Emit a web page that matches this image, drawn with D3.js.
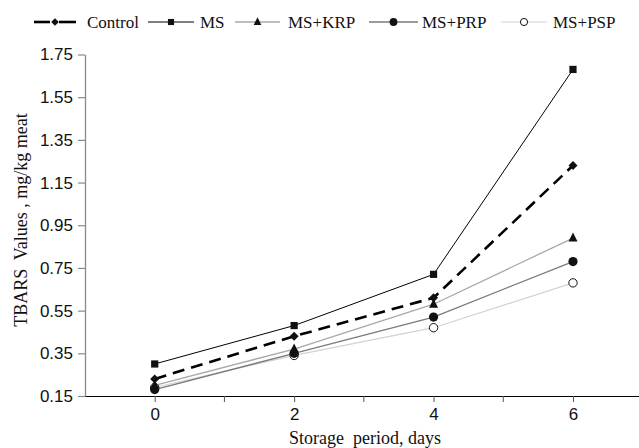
<!DOCTYPE html>
<html>
<head>
<meta charset="utf-8">
<script src="https://cdn.jsdelivr.net/npm/d3@7"></script>
<style>
  body { margin: 0; background: #fff; }
  svg { display: block; }
</style>
</head>
<body>
<svg width="639" height="448"></svg>
<script>
// days of storage
var days = [0, 2, 4, 6];
var controlVals = [0.23, 0.43, 0.61, 1.23];
var msVals = [0.30, 0.48, 0.72, 1.68];
var krpVals = [0.20, 0.37, 0.58, 0.89];
var prpVals = [0.18, 0.35, 0.52, 0.78];
var pspVals = [0.19, 0.34, 0.47, 0.68];
var yTicks = [0.15, 0.35, 0.55, 0.75, 0.95, 1.15, 1.35, 1.55, 1.75];
var xMinorTicks = [1, 3, 5];

var series = [
  { name: "Control", values: controlVals, color: "#000", width: 2.6, dash: "12,7", marker: "diamond", lx: 34, lx2: 76, tx: 87 },
  { name: "MS", values: msVals, color: "#000", width: 1, dash: null, marker: "square", lx: 148, lx2: 194, tx: 200 },
  { name: "MS+KRP", values: krpVals, color: "#a8a8a8", width: 1.3, dash: null, marker: "triangle", lx: 235, lx2: 280, tx: 288 },
  { name: "MS+PRP", values: prpVals, color: "#7a7a7a", width: 1.3, dash: null, marker: "circle", lx: 369, lx2: 418, tx: 422 },
  { name: "MS+PSP", values: pspVals, color: "#d2d2d2", width: 1.2, dash: null, marker: "open", lx: 501, lx2: 547, tx: 553 }
];

var svg = d3.select("svg");

var xScale = d3.scaleLinear()
  .domain([-1, 7])
  .range([85, 642.7]);

var yScale = d3.scaleLinear()
  .domain([0.15, 1.75])
  .range([396, 54.5]);

// y axis (gray)
var yAxis = svg.append("g")
  .attr("transform", "translate(" + xScale(-1) + ",0)")
  .call(d3.axisLeft(yScale).tickValues(yTicks).tickFormat(d3.format(".2f")).tickSize(7).tickSizeOuter(0).tickPadding(5));
yAxis.select(".domain").attr("stroke", "#8a8a8a").attr("stroke-width", 1.3);
yAxis.selectAll(".tick line").attr("stroke", "#8a8a8a").attr("stroke-width", 1.2);
yAxis.selectAll(".tick text")
  .attr("fill", "#111")
  .style("font-family", "'Liberation Sans', Arial, sans-serif")
  .style("font-size", "17px");

// x axis
var xAxis = svg.append("g")
  .attr("transform", "translate(0," + yScale(0.15) + ")")
  .call(d3.axisBottom(xScale).tickValues(days).tickSize(6).tickSizeOuter(0).tickPadding(6));
xAxis.select(".domain").attr("stroke", "#000").attr("stroke-width", 1.2);
xAxis.selectAll(".tick line").attr("stroke", "#555");
xAxis.selectAll(".tick text")
  .attr("fill", "#111")
  .style("font-family", "'Liberation Sans', Arial, sans-serif")
  .style("font-size", "17px");

svg.append("g").selectAll("line")
  .data(xMinorTicks)
  .enter().append("line")
  .attr("x1", function (d) { return xScale(d); })
  .attr("x2", function (d) { return xScale(d); })
  .attr("y1", yScale(0.15))
  .attr("y2", yScale(0.15) + 6)
  .attr("stroke", "#555");

// axis titles
svg.append("text")
  .attr("x", 365)
  .attr("y", 444)
  .attr("text-anchor", "middle")
  .style("font-family", "'Liberation Serif', 'Times New Roman', serif")
  .style("font-size", "18px")
  .attr("fill", "#111")
  .attr("xml:space", "preserve")
  .text("Storage  period, days");

svg.append("text")
  .attr("transform", "translate(27,220) rotate(-90)")
  .attr("text-anchor", "middle")
  .style("font-family", "'Liberation Serif', 'Times New Roman', serif")
  .style("font-size", "18px")
  .attr("fill", "#111")
  .attr("xml:space", "preserve")
  .text("TBARS  Values , mg/kg meat");

function drawMarker(g, type, x, y, k) {
  k = k || 1;
  if (type === "square") {
    var h = 3.6 * k;
    g.append("rect").attr("x", x - h).attr("y", y - h).attr("width", 2 * h).attr("height", 2 * h).attr("fill", "#111");
  } else if (type === "diamond") {
    var d = 4.5 * k;
    g.append("path").attr("d", "M" + x + "," + (y - d) + "L" + (x + d) + "," + y + "L" + x + "," + (y + d) + "L" + (x - d) + "," + y + "Z").attr("fill", "#111");
  } else if (type === "triangle") {
    g.append("path").attr("d", "M" + x + "," + (y - 5.5 * k) + "L" + (x + 4.5 * k) + "," + (y + 3.5 * k) + "L" + (x - 4.5 * k) + "," + (y + 3.5 * k) + "Z").attr("fill", "#111");
  } else if (type === "circle") {
    g.append("circle").attr("cx", x).attr("cy", y).attr("r", 4.6 * k).attr("fill", "#111");
  } else {
    g.append("circle").attr("cx", x).attr("cy", y).attr("r", 4.2 * k).attr("fill", "#fff").attr("stroke", "#111").attr("stroke-width", 1);
  }
}

var line = d3.line()
  .x(function (d, i) { return xScale(days[i]); })
  .y(function (d) { return yScale(d); });

// lines, lightest drawn first
var order = [4, 3, 2, 0, 1];
order.forEach(function (k) {
  var s = series[k];
  svg.append("path")
    .datum(s.values)
    .attr("fill", "none")
    .attr("stroke", s.color)
    .attr("stroke-width", s.width)
    .attr("stroke-dasharray", s.dash)
    .attr("d", line);
});
order.forEach(function (k) {
  var s = series[k];
  var g = svg.append("g");
  s.values.forEach(function (v, i) {
    drawMarker(g, s.marker, xScale(days[i]), yScale(v));
  });
});

// legend
var legendY = 22;
series.forEach(function (s) {
  var g = svg.append("g");
  var mid = (s.lx + s.lx2) / 2;
  if (s.dash) {
    g.append("line").attr("x1", s.lx).attr("x2", mid - 5).attr("y1", legendY).attr("y2", legendY)
      .attr("stroke", s.color).attr("stroke-width", s.width);
    g.append("line").attr("x1", mid + 4).attr("x2", s.lx2).attr("y1", legendY).attr("y2", legendY)
      .attr("stroke", s.color).attr("stroke-width", s.width);
  } else {
    g.append("line")
      .attr("x1", s.lx).attr("x2", s.lx2)
      .attr("y1", legendY).attr("y2", legendY)
      .attr("stroke", s.color)
      .attr("stroke-width", s.width);
  }
  drawMarker(g, s.marker, mid, legendY, 0.85);
  g.append("text")
    .attr("x", s.tx)
    .attr("y", legendY + 6)
    .style("font-family", "'Liberation Serif', 'Times New Roman', serif")
    .style("font-size", "17px")
    .attr("fill", "#111")
    .text(s.name);
});
</script>
</body>
</html>
